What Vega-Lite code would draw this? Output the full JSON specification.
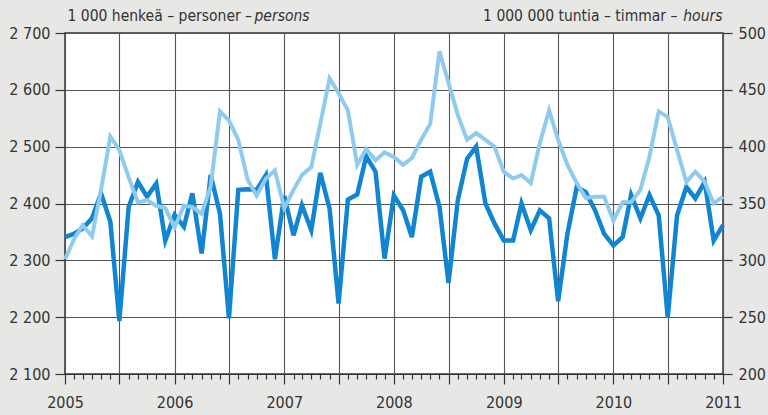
{
  "$schema": "https://vega.github.io/schema/vega-lite/v6.json",
  "width": 658,
  "height": 341,
  "autosize": "none",
  "padding": {"left": 65, "top": 33, "right": 45, "bottom": 41},
  "background": "#e7e7e5",
  "config": {
    "view": {"fill": "white", "stroke": "#333333", "strokeWidth": 1.5},
    "font": "DejaVu Sans Condensed",
    "axis": {
      "labelFont": "DejaVu Sans Condensed",
      "titleFont": "DejaVu Sans Condensed",
      "labelColor": "#333333",
      "titleColor": "#333333",
      "labelFontSize": 16,
      "titleFontSize": 15.5,
      "titleFontWeight": "normal",
      "tickColor": "#333333",
      "tickWidth": 1.2,
      "domainColor": "#333333",
      "gridColor": "#555555",
      "gridWidth": 1.1
    }
  },
  "data": {
    "values": [
      {"date": "2005-01-01", "persons": 2341, "hours": 301},
      {"date": "2005-02-01", "persons": 2347, "hours": 319},
      {"date": "2005-03-01", "persons": 2356, "hours": 331},
      {"date": "2005-04-01", "persons": 2374, "hours": 321},
      {"date": "2005-05-01", "persons": 2418, "hours": 362},
      {"date": "2005-06-01", "persons": 2368, "hours": 409},
      {"date": "2005-07-01", "persons": 2193, "hours": 397},
      {"date": "2005-08-01", "persons": 2394, "hours": 373},
      {"date": "2005-09-01", "persons": 2438, "hours": 351},
      {"date": "2005-10-01", "persons": 2412, "hours": 353},
      {"date": "2005-11-01", "persons": 2435, "hours": 348},
      {"date": "2005-12-01", "persons": 2335, "hours": 346},
      {"date": "2006-01-01", "persons": 2380, "hours": 329},
      {"date": "2006-02-01", "persons": 2359, "hours": 348},
      {"date": "2006-03-01", "persons": 2418, "hours": 347},
      {"date": "2006-04-01", "persons": 2312, "hours": 341},
      {"date": "2006-05-01", "persons": 2450, "hours": 365},
      {"date": "2006-06-01", "persons": 2382, "hours": 431},
      {"date": "2006-07-01", "persons": 2198, "hours": 423},
      {"date": "2006-08-01", "persons": 2424, "hours": 406},
      {"date": "2006-09-01", "persons": 2425, "hours": 371},
      {"date": "2006-10-01", "persons": 2424, "hours": 357},
      {"date": "2006-11-01", "persons": 2450, "hours": 372},
      {"date": "2006-12-01", "persons": 2302, "hours": 379},
      {"date": "2007-01-01", "persons": 2413, "hours": 346},
      {"date": "2007-02-01", "persons": 2344, "hours": 362},
      {"date": "2007-03-01", "persons": 2397, "hours": 375},
      {"date": "2007-04-01", "persons": 2353, "hours": 382},
      {"date": "2007-05-01", "persons": 2454, "hours": 420},
      {"date": "2007-06-01", "persons": 2391, "hours": 460},
      {"date": "2007-07-01", "persons": 2224, "hours": 447},
      {"date": "2007-08-01", "persons": 2407, "hours": 432},
      {"date": "2007-09-01", "persons": 2416, "hours": 384},
      {"date": "2007-10-01", "persons": 2483, "hours": 398},
      {"date": "2007-11-01", "persons": 2456, "hours": 388},
      {"date": "2007-12-01", "persons": 2303, "hours": 395},
      {"date": "2008-01-01", "persons": 2414, "hours": 391},
      {"date": "2008-02-01", "persons": 2388, "hours": 384},
      {"date": "2008-03-01", "persons": 2341, "hours": 390},
      {"date": "2008-04-01", "persons": 2447, "hours": 406},
      {"date": "2008-05-01", "persons": 2456, "hours": 420},
      {"date": "2008-06-01", "persons": 2394, "hours": 484},
      {"date": "2008-07-01", "persons": 2260, "hours": 456},
      {"date": "2008-08-01", "persons": 2406, "hours": 428},
      {"date": "2008-09-01", "persons": 2479, "hours": 406},
      {"date": "2008-10-01", "persons": 2500, "hours": 412},
      {"date": "2008-11-01", "persons": 2400, "hours": 406},
      {"date": "2008-12-01", "persons": 2365, "hours": 400},
      {"date": "2009-01-01", "persons": 2335, "hours": 378},
      {"date": "2009-02-01", "persons": 2335, "hours": 372},
      {"date": "2009-03-01", "persons": 2400, "hours": 375},
      {"date": "2009-04-01", "persons": 2353, "hours": 368},
      {"date": "2009-05-01", "persons": 2388, "hours": 403},
      {"date": "2009-06-01", "persons": 2374, "hours": 432},
      {"date": "2009-07-01", "persons": 2228, "hours": 406},
      {"date": "2009-08-01", "persons": 2347, "hours": 384},
      {"date": "2009-09-01", "persons": 2429, "hours": 368},
      {"date": "2009-10-01", "persons": 2420, "hours": 355},
      {"date": "2009-11-01", "persons": 2388, "hours": 356},
      {"date": "2009-12-01", "persons": 2347, "hours": 356},
      {"date": "2010-01-01", "persons": 2326, "hours": 335},
      {"date": "2010-02-01", "persons": 2341, "hours": 351},
      {"date": "2010-03-01", "persons": 2415, "hours": 351},
      {"date": "2010-04-01", "persons": 2374, "hours": 362},
      {"date": "2010-05-01", "persons": 2415, "hours": 391},
      {"date": "2010-06-01", "persons": 2379, "hours": 431},
      {"date": "2010-07-01", "persons": 2199, "hours": 426},
      {"date": "2010-08-01", "persons": 2379, "hours": 397},
      {"date": "2010-09-01", "persons": 2429, "hours": 369},
      {"date": "2010-10-01", "persons": 2409, "hours": 378},
      {"date": "2010-11-01", "persons": 2438, "hours": 369},
      {"date": "2010-12-01", "persons": 2335, "hours": 350},
      {"date": "2011-01-01", "persons": 2362, "hours": 356}
    ]
  },
  "layer": [
    {
      "mark": {"type": "line", "color": "#1086d3", "strokeWidth": 4.5, "strokeJoin": "miter"},
      "encoding": {
        "x": {
          "field": "date",
          "type": "temporal",
          "scale": {"type": "utc", "domain": [{"year": 2005, "month": 1, "date": 1, "utc": true}, {"year": 2011, "month": 1, "date": 1, "utc": true}]},
          "axis": {
            "orient": "bottom",
            "tickCount": {"interval": "month", "step": 1},
            "grid": true,
            "gridOpacity": {"condition": {"test": "utcmonth(datum.value) % 6 === 0", "value": 1}, "value": 0},
            "tickSize": {"condition": {"test": "utcmonth(datum.value) % 6 === 0", "value": 10}, "value": 5},
            "labelExpr": "utcmonth(datum.value) === 0 ? utcFormat(datum.value, '%Y') : ''",
            "labelFlush": false,
            "labelOverlap": false,
            "labelPadding": 10,
            "domain": true,
            "title": "persons",
            "titleFontStyle": "italic",
            "titleAngle": 0,
            "titleAlign": "left",
            "titleBaseline": "alphabetic",
            "titleX": 189,
            "titleY": -354
          }
        },
        "y": {
          "field": "persons",
          "type": "quantitative",
          "scale": {"domain": [2100, 2700], "zero": false, "nice": false},
          "axis": {
            "orient": "left",
            "values": [2100, 2200, 2300, 2400, 2500, 2600, 2700],
            "labelExpr": "replace(format(datum.value, ','), ',', ' ')",
            "grid": true,
            "domain": false,
            "tickSize": 10,
            "labelPadding": 5,
            "title": "1 000 henkeä – personer –",
            "titleAngle": 0,
            "titleAlign": "left",
            "titleBaseline": "alphabetic",
            "titleX": 2,
            "titleY": -13
          }
        }
      }
    },
    {
      "mark": {"type": "line", "color": "#8fcbee", "strokeWidth": 4, "strokeJoin": "miter"},
      "encoding": {
        "x": {
          "field": "date",
          "type": "temporal",
          "axis": {
            "orient": "top",
            "grid": false,
            "ticks": false,
            "labels": false,
            "domain": false,
            "title": "hours",
            "titleFontStyle": "italic",
            "titleAngle": 0,
            "titleAlign": "right",
            "titleBaseline": "alphabetic",
            "titleX": 657,
            "titleY": -13
          }
        },
        "y": {
          "field": "hours",
          "type": "quantitative",
          "scale": {"domain": [200, 500], "zero": false, "nice": false},
          "axis": {
            "orient": "right",
            "values": [200, 250, 300, 350, 400, 450, 500],
            "grid": false,
            "domain": false,
            "tickSize": 9,
            "labelPadding": 6,
            "title": "1 000 000 tuntia – timmar –",
            "titleAngle": 0,
            "titleAlign": "right",
            "titleBaseline": "alphabetic",
            "titleX": -46,
            "titleY": -13
          }
        }
      }
    }
  ],
  "resolve": {"scale": {"y": "independent"}, "axis": {"x": "independent", "y": "independent"}}
}
